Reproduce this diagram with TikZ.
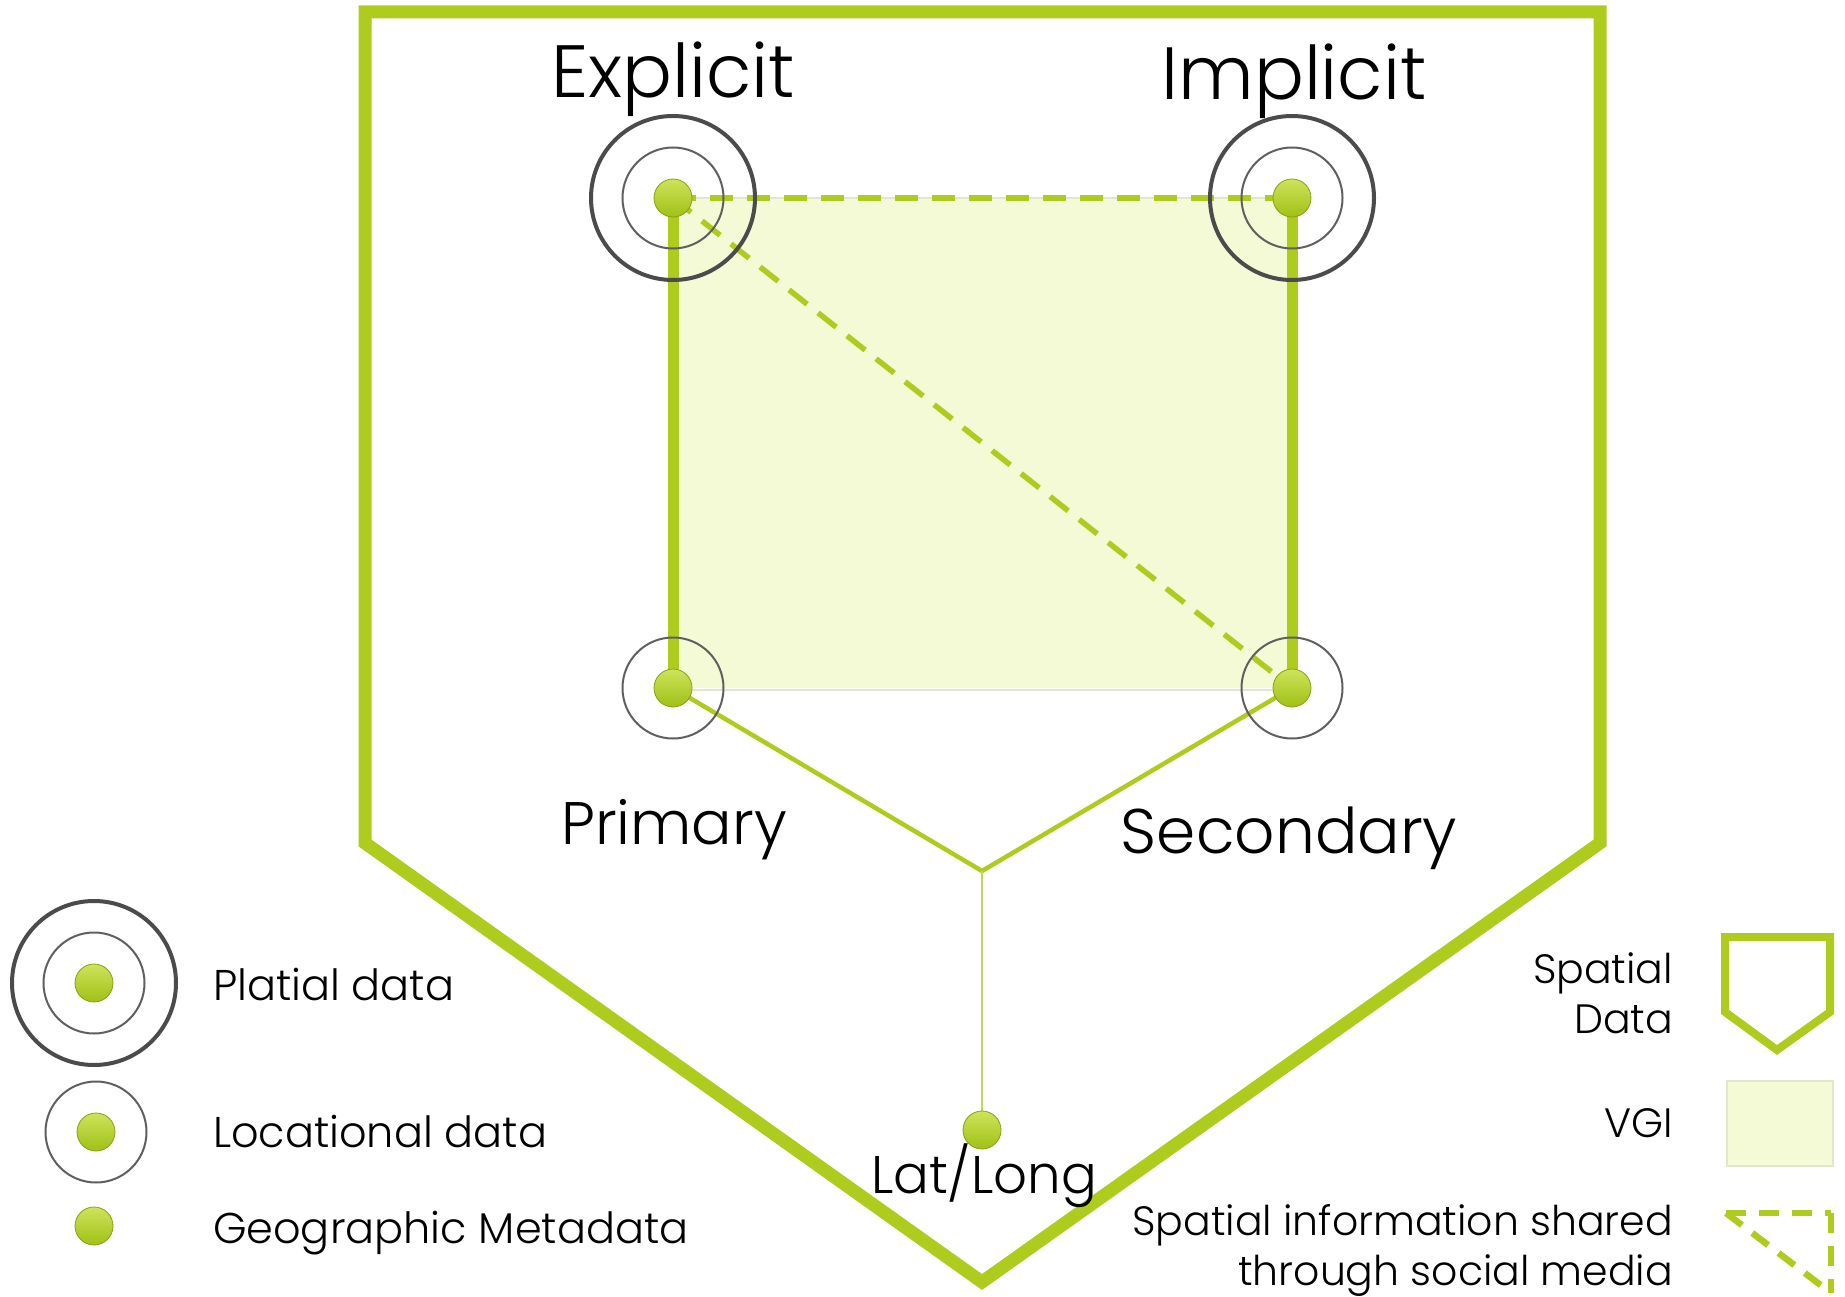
\documentclass[tikz,border=0pt]{standalone}
\usepackage{fontspec}
\setmainfont{Poppins}[UprightFont=* Light]
\definecolor{limeg}{RGB}{173,204,30}
\definecolor{limestem}{RGB}{190,215,90}
\definecolor{vgifill}{RGB}{243,250,213}
\definecolor{vgiedge}{RGB}{225,230,205}
\definecolor{dothi}{RGB}{205,228,90}
\definecolor{dotlo}{RGB}{160,192,22}
\definecolor{dotrim}{RGB}{135,160,20}
\definecolor{ringdark}{RGB}{75,75,75}
\definecolor{ringmid}{RGB}{95,95,95}
\begin{document}
\begin{tikzpicture}[x=1pt,y=-1pt,
  every node/.style={inner sep=0pt, outer sep=0pt},
  lime/.style={draw=limeg},
  frame/.style={lime, line width=13pt, line join=miter},
  side/.style={lime, line width=11pt},
  share/.style={lime, line width=5.5pt, dash pattern=on 23pt off 14pt},
  link/.style={lime, line width=4.5pt},
  stem/.style={draw=limestem, line width=1.8pt},
  dot/.style={circle, minimum size=38pt, top color=dothi,
    bottom color=dotlo, draw=dotrim, line width=0.8pt},
  ringout/.style={circle, minimum size=164pt, draw=ringdark, line width=4pt},
  ringin/.style={circle, minimum size=101pt, draw=ringmid, line width=2pt},
  big/.style={font=\fontsize{74}{80}\selectfont, anchor=base},
  mid/.style={font=\fontsize{53}{58}\selectfont, anchor=base},
  lab/.style={font=\fontsize{60}{66}\selectfont, anchor=base},
  leg/.style={font=\fontsize{43}{50}\selectfont, anchor=base west},
  legr/.style={font=\fontsize{41}{50}\selectfont, anchor=base east},
]
\useasboundingbox (0,0) rectangle (1845,1297);

% outer spatial-data pentagon
\coordinate (p1) at (365,12);
\coordinate (p2) at (1600,12);
\coordinate (p3) at (1600,843);
\coordinate (p4) at (982,1282);
\coordinate (p5) at (365,843);
\draw[frame] (p1) -- (p2) -- (p3) -- (p4) -- (p5) -- cycle;

% anchor points of the four corners
\coordinate (ex) at (673,198);
\coordinate (im) at (1292,198);
\coordinate (pr) at (673,688);
\coordinate (se) at (1292,688);
\coordinate (jn) at (982,871);
\coordinate (ll) at (982,1130);

% VGI area
\fill[vgifill] (ex) rectangle (se);
\draw[vgiedge, line width=1.5pt] (ex) -- (im);
\draw[vgiedge, line width=2pt] (pr) ++(0,2) -- ++(619,0);

% connectors
\draw[side] (ex) -- (pr);
\draw[side] (im) -- (se);
\draw[share] (ex) -- (im);
\draw[share] (ex) -- (se);
\draw[link] (pr) -- (jn) -- (se);
\draw[stem] (jn) -- (ll);

% rings
\node[ringout] (exo) at (ex) {};
\node[ringin]  (exi) at (ex) {};
\node[ringout] (imo) at (im) {};
\node[ringin]  (imi) at (im) {};
\node[ringin]  (pri) at (pr) {};
\node[ringin]  (sei) at (se) {};

% dots
\node[dot] (exd) at (ex) {};
\node[dot] (imd) at (im) {};
\node[dot] (prd) at (pr) {};
\node[dot] (sed) at (se) {};
\node[dot] (lld) at (ll) {};

% labels
\node[big] (tex) at (673,98) {Explicit};
\node[big] (tim) at (1294,100) {Implicit};
\node[lab] (tpr) at (674,844) {Primary};
\node[lab, font=\fontsize{63}{69}\selectfont] (tse) at (1289,853) {Secondary};
\node[mid] (tll) at (984,1193) {Lat/Long};

% legend, left
\node[ringout] (l1o) at (94,983) {};
\node[ringin]  (l1i) at (94,983) {};
\node[dot]     (l1d) at (94,983) {};
\node[leg] (l1t) at (213,1000) {Platial data};
\node[ringin]  (l2i) at (96,1132) {};
\node[dot]     (l2d) at (96,1132) {};
\node[leg] (l2t) at (213,1147) {Locational data};
\node[dot]     (l3d) at (94,1226) {};
\node[leg] (l3t) at (213,1243) {Geographic Metadata};

% legend, right
\draw[lime, line width=8pt, line join=miter]
  (1725,937) -- (1830,937) -- (1830,1012) -- (1777,1050) -- (1725,1012) -- cycle;
\node[legr] (r1a) at (1673,983) {Spatial};
\node[legr] (r1b) at (1673,1033) {Data};
\filldraw[fill=vgifill, draw=vgiedge, line width=1.2pt]
  (1727,1081) rectangle (1833,1166);
\node[legr] (r2) at (1673,1137) {VGI};
\coordinate (t1) at (1726,1213);
\coordinate (t2) at (1831,1213);
\coordinate (t3) at (1831,1293);
\draw[lime, line width=6.5pt, dash pattern=on 20pt off 13pt] (t1) -- (t2);
\draw[lime, line width=6.5pt, dash pattern=on 20pt off 13pt] (t2) -- (t3);
\draw[lime, line width=6.5pt, dash pattern=on 20pt off 13pt] (t1) -- (t3);
\node[legr] (r3a) at (1673,1235) {Spatial information shared};
\node[legr] (r3b) at (1673,1285) {through social media};
\end{tikzpicture}
\end{document}
